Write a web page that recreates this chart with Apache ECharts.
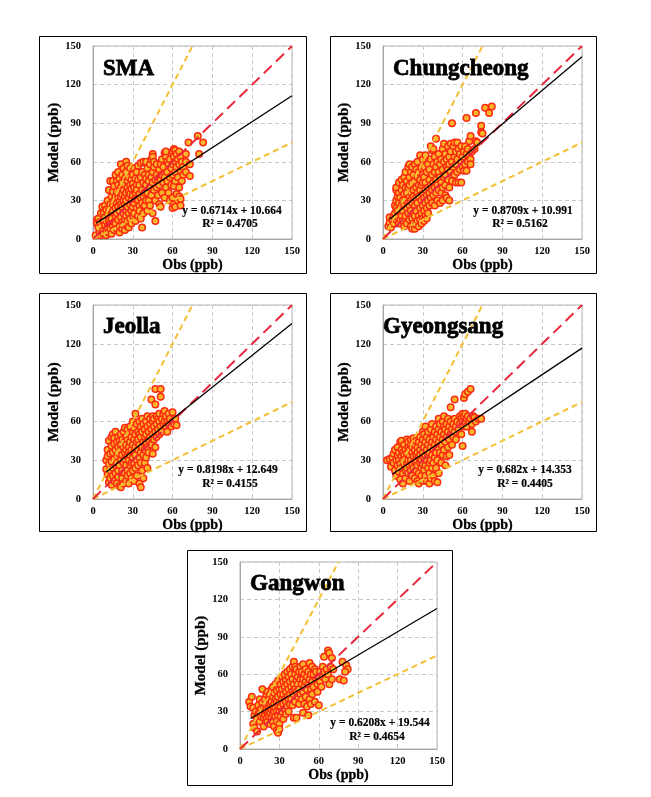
<!DOCTYPE html>
<html>
<head>
<meta charset="utf-8">
<script src="https://cdn.jsdelivr.net/npm/echarts@6/dist/echarts.min.js"></script>
<style>
html,body{margin:0;padding:0;background:#fff;}
#chart{width:651px;height:797px;}
</style>
</head>
<body>
<div id="chart"></div>
<script>
// ---------------- DATA ----------------
const regions = ['SMA', 'Chungcheong', 'Jeolla', 'Gyeongsang', 'Gangwon'];
const axisTicks = [0, 30, 60, 90, 120, 150];

const smaPoints = [
[2,3],[3,15],[3,12],[4,9],[4,16],[5,5],[5,13],[6,3],[6,20],[7,10],[7,25],[7,6],[8,14],[8,20],[8,4],[9,26],[9,11],[9,17],[10,7],[10,23],[10,3],[10,14],
[11,19],[11,9],[11,30],[12,5],[12,24],[12,14],[12,38],[13,12],[13,27],[13,8],[13,45],[14,20],[14,33],[14,16],[14,4],[15,45],[15,26],[15,10],[15,37],[15,22],[16,13],[16,30],[16,41],[16,7],[17,18],[17,33],[17,24],[17,50],[17,12],[18,28],[18,37],[18,8],[18,45],[18,20],[19,15],[19,32],[19,42],[19,25],[19,52],[20,10],[20,22],[20,36],[20,29],[20,47],[20,5],
[21,17],[21,40],[21,58],[21,27],[21,33],[22,8],[22,25],[22,44],[22,13],[22,35],[22,50],[23,20],[23,30],[23,38],[23,55],[23,11],[24,15],[24,27],[24,42],[24,33],[24,47],[24,7],[25,22],[25,36],[25,60],[25,18],[25,30],[25,52],[26,10],[26,40],[26,25],[26,45],[26,14],[26,57],[27,20],[27,32],[27,48],[27,9],[27,37],[28,27],[28,42],[28,16],[28,55],[28,35],[29,22],[29,46],[29,12],[29,30],[29,39],[30,25],[30,50],[30,18],[30,34],[30,43],
[31,28],[31,40],[31,55],[31,20],[32,36],[32,47],[32,14],[32,31],[33,24],[33,42],[33,52],[33,38],[34,30],[34,46],[34,18],[34,57],[35,35],[35,26],[35,42],[35,22],[36,48],[36,32],[36,16],[36,59],[37,38],[37,9],[37,28],[37,52],[38,44],[38,60],[38,20],[38,33],[39,36],[39,50],[39,26],[40,60],[40,42],[40,30],[40,47],
[41,36],[41,55],[41,22],[42,45],[42,30],[42,50],[43,40],[43,58],[43,26],[44,48],[44,34],[44,62],[45,66],[45,64],[45,44],[45,52],[45,20],[46,38],[46,56],[46,60],[47,14],[47,46],[47,30],[48,50],[48,40],[48,58],[49,34],[49,45],[50,54],[50,27],[50,48],[50,42],
[51,25],[51,46],[51,58],[52,50],[52,36],[52,62],[53,44],[53,56],[54,67],[54,48],[54,32],[55,64],[55,40],[55,68],[56,52],[56,60],[56,45],[57,58],[57,36],[58,48],[58,62],[58,30],[59,55],[59,42],[60,68],[60,58],[60,50],[60,32],[60,24],
[61,70],[61,64],[61,41],[61,27],[62,69],[62,60],[62,52],[62,45],[62,25],[63,66],[63,56],[63,35],[64,62],[64,48],[64,30],[65,68],[65,58],[65,40],[65,33],[66,64],[66,53],[66,26],[67,60],[67,45],[68,56],[68,50],[70,52],[70,60],[72,75],[73,49],[73,58],
[79,80],[80,66],[83,75],[70,66],[66,31]
];

const chungcheongPoints = [
[4,10],[5,13],[5,17],[6,9],[7,15],[8,18],[8,12],[9,26],[9,20],[10,15],[10,30],[10,38],[10,24],[10,40],
[11,22],[11,33],[11,17],[12,28],[12,36],[12,44],[12,12],[13,21],[13,32],[13,15],[14,38],[14,26],[14,46],[14,18],[15,30],[15,42],[15,22],[15,14],[16,35],[16,48],[16,27],[16,10],[17,40],[17,18],[17,30],[17,52],[18,24],[18,45],[18,36],[18,12],[19,56],[19,28],[19,40],[19,20],[20,33],[20,48],[20,15],[20,58],[20,26],[20,42],
[21,10],[21,36],[21,52],[21,22],[21,30],[22,44],[22,16],[22,56],[22,28],[22,8],[23,38],[23,20],[23,50],[23,12],[23,33],[24,8],[24,26],[24,45],[24,58],[24,18],[25,32],[25,40],[25,11],[25,54],[25,22],[26,36],[26,14],[26,48],[26,28],[26,60],[27,18],[27,42],[27,10],[27,33],[27,52],[28,24],[28,65],[28,38],[28,15],[28,46],[29,30],[29,12],[29,55],[29,20],[29,42],[30,35],[30,26],[30,50],[30,16],[30,62],[30,44],
[31,32],[31,22],[31,48],[31,56],[31,14],[32,38],[32,28],[32,65],[32,18],[32,44],[33,52],[33,34],[33,24],[33,16],[34,40],[34,58],[34,30],[34,20],[35,46],[35,36],[35,26],[35,54],[36,42],[36,62],[36,32],[36,72],[37,50],[37,69],[37,38],[37,28],[38,44],[38,58],[38,70],[38,34],[39,52],[39,40],[39,26],[39,64],[40,78],[40,46],[40,36],[40,56],
[41,60],[41,42],[41,30],[42,52],[42,66],[42,38],[43,48],[43,58],[43,28],[44,62],[44,44],[44,36],[45,70],[45,54],[45,40],[45,30],[46,74],[46,60],[46,48],[47,50],[47,66],[47,34],[47,42],[48,56],[48,62],[48,32],[49,46],[49,72],[49,54],[50,64],[50,40],[50,58],[50,30],
[51,74],[51,52],[51,68],[52,90],[52,60],[52,45],[53,72],[53,56],[54,75],[54,64],[54,50],[55,68],[55,44],[55,58],[56,75],[56,62],[56,52],[57,70],[57,44],[58,66],[58,54],[59,72],[59,60],[59,44],[60,64],[60,56],
[61,68],[61,53],[62,72],[62,58],[63,94],[63,66],[63,53],[64,60],[64,70],[65,76],[65,64],[66,80],[66,62],[66,58],[67,68],[69,70],[70,98],[70,76],[71,75],[74,88],[74,83],[75,82],[77,102],[80,98],[82,103]
];

const jeollaPoints = [
[10,23],[10,30],[11,38],[11,19],[11,33],[12,45],[12,27],[12,13],[13,35],[13,22],[13,16],[14,41],[14,29],[14,48],[14,11],[15,50],[15,36],[15,24],[15,18],
[16,43],[16,31],[16,14],[16,47],[17,38],[17,26],[17,20],[17,52],[18,33],[18,44],[18,12],[18,28],[19,40],[19,22],[19,48],[19,17],[20,35],[20,45],[20,26],[20,10],[21,30],[21,42],[21,9],[21,38],[21,50],[22,22],[22,46],[22,34],[22,16],[23,40],[23,28],[23,52],[23,12],[24,36],[24,55],[24,20],[24,44],[24,31],[25,26],[25,48],[25,38],[25,14],[25,42],
[26,33],[26,46],[26,22],[26,54],[26,18],[27,40],[27,30],[27,50],[27,12],[27,36],[28,44],[28,26],[28,56],[28,34],[28,20],[29,38],[29,48],[29,16],[29,28],[30,52],[30,42],[30,32],[30,22],[30,60],[31,36],[31,46],[31,14],[31,28],[31,55],[32,66],[32,40],[32,50],[32,24],[32,34],[33,44],[33,30],[33,58],[33,18],[34,38],[34,52],[34,26],[34,46],[35,42],[35,32],[35,60],[35,12],[35,50],
[36,9],[36,36],[36,48],[36,56],[36,28],[37,40],[37,52],[37,62],[37,22],[38,44],[38,34],[38,58],[38,16],[39,48],[39,38],[39,54],[39,28],[40,60],[40,44],[40,50],[40,32],[41,56],[41,40],[41,64],[41,24],[42,52],[42,46],[42,36],[43,58],[43,48],[43,62],[44,77],[44,54],[44,42],[45,60],[45,50],[45,64],[45,35],
[46,56],[46,46],[46,62],[47,85],[47,73],[47,52],[47,40],[48,58],[48,64],[48,48],[49,54],[49,62],[50,60],[50,66],[50,50],[51,85],[51,79],[51,56],[52,62],[52,52],[53,66],[53,58],[54,60],[54,68],[55,56],[55,64],[56,60],[56,52],[57,66],[57,58],[58,62],[59,56],[60,67],[60,60],[61,58],[62,62],[63,57]
];

const gyeongsangPoints = [
[3,30],[5,31],[6,25],[7,32],[8,35],[8,28],[9,22],[9,38],[10,30],[10,18],[11,26],[11,34],[11,40],[12,21],[12,30],[12,36],
[13,15],[13,27],[13,44],[14,33],[14,24],[14,45],[14,38],[15,20],[15,30],[15,36],[15,12],[16,27],[16,42],[16,34],[17,22],[17,31],[17,38],[17,16],[18,46],[18,28],[18,35],[18,24],[19,40],[19,20],[19,30],[19,44],[20,26],[20,34],[20,38],[20,14],[21,30],[21,42],[21,22],[21,46],[22,36],[22,27],[22,18],[22,40],
[23,33],[23,44],[23,24],[23,47],[24,29],[24,38],[24,16],[24,42],[25,34],[25,22],[25,45],[25,30],[26,40],[26,26],[26,36],[26,14],[27,32],[27,44],[27,20],[27,12],[28,38],[28,28],[28,48],[28,34],[29,24],[29,42],[29,30],[29,18],[30,36],[30,46],[30,27],[30,52],[30,14],[31,40],[31,32],[31,22],[31,50],[32,34],[32,44],[32,26],[32,18],[32,56],
[33,38],[33,30],[33,48],[33,14],[34,42],[34,24],[34,52],[34,34],[35,12],[35,36],[35,46],[35,28],[35,20],[36,40],[36,54],[36,30],[36,16],[37,44],[37,34],[37,24],[37,58],[38,38],[38,48],[38,28],[38,18],[39,42],[39,52],[39,32],[39,14],[40,46],[40,36],[40,56],[40,24],[41,40],[41,50],[41,13],[41,30],[42,54],[42,44],[42,62],[42,20],
[43,48],[43,36],[43,58],[44,52],[44,42],[44,28],[45,46],[45,60],[45,34],[46,56],[46,50],[46,38],[46,64],[47,44],[47,54],[47,26],[48,58],[48,48],[48,33],[49,52],[49,62],[49,40],[50,56],[50,46],[50,34],[51,71],[51,60],[51,50],[52,54],[52,42],[53,58],[53,48],[54,77],[54,62],[54,52],[55,56],[55,46],
[56,60],[57,54],[58,64],[58,58],[59,62],[59,50],[60,66],[60,60],[60,41],[61,78],[61,64],[61,56],[62,81],[62,66],[62,60],[63,62],[63,56],[64,83],[64,64],[65,60],[66,85],[66,62],[67,52],[67,58],[68,64],[69,63],[70,60],[72,62],[74,62]
];

const gangwonPoints = [
[7,38],[8,34],[9,42],[10,33],[10,20],[11,17],[11,27],[12,30],[13,14],[13,24],[14,35],[14,28],[15,30],[15,40],[15,22],
[16,26],[16,32],[17,48],[17,29],[17,37],[18,18],[18,25],[18,33],[19,30],[19,40],[19,27],[20,35],[20,24],[20,44],[20,31],[21,28],[21,37],[21,46],[21,22],[22,33],[22,40],[22,26],[22,30],[23,36],[23,20],[23,44],[23,29],[24,32],[24,48],[24,25],[24,38],[25,22],[25,34],[25,42],[25,28],[25,50],
[26,36],[26,30],[26,45],[26,18],[27,40],[27,26],[27,52],[27,33],[28,38],[28,22],[28,47],[28,30],[28,15],[29,42],[29,35],[29,27],[29,13],[29,55],[30,37],[30,48],[30,30],[30,20],[30,16],[31,44],[31,52],[31,34],[31,26],[32,40],[32,58],[32,30],[32,48],[33,36],[33,54],[33,44],[33,24],[34,50],[34,40],[34,32],[34,60],[35,46],[35,38],[35,55],[35,28],
[36,42],[36,52],[36,34],[36,62],[37,48],[37,58],[37,40],[37,30],[38,54],[38,44],[38,64],[38,36],[39,50],[39,60],[39,40],[40,46],[40,56],[40,66],[40,35],[41,52],[41,70],[41,25],[41,44],[42,60],[42,48],[42,66],[42,38],[43,55],[43,25],[43,46],[43,64],[44,52],[44,42],[44,58],[45,62],[45,48],[45,36],
[46,56],[46,66],[46,44],[47,52],[47,62],[47,40],[48,68],[48,56],[48,46],[48,29],[49,60],[49,50],[49,36],[50,64],[50,54],[50,42],[51,58],[51,48],[51,34],[52,27],[52,62],[52,52],[53,69],[53,56],[53,40],[54,60],[54,48],[54,36],[55,66],[55,54],[55,44],
[56,60],[56,50],[57,64],[57,38],[58,56],[58,62],[59,52],[59,46],[60,58],[60,35],[61,62],[61,54],[62,50],[63,66],[63,58],[64,74],[64,62],[65,56],[66,64],[67,79],[67,60],[68,77],[68,52],[69,66],[70,73],[70,56],[71,64],[76,56],[78,70],[79,55],[81,67],[82,64],[80,62]
];

const pointsByRegion = [smaPoints, chungcheongPoints, jeollaPoints, gyeongsangPoints, gangwonPoints];

// regression line end points (from the printed equations)
const regressionLines = [
  [[2.5, 12.34], [150, 111.37]],
  [[5, 15.34], [150, 141.63]],
  [[10, 20.85], [150, 135.62]],
  [[7, 19.13], [150, 116.65]],
  [[8, 24.51], [150, 112.66]]
];
const equations = ['y = 0.6714x + 10.664', 'y = 0.8709x + 10.991', 'y = 0.8198x + 12.649', 'y = 0.682x + 14.353', 'y = 0.6208x + 19.544'];
const rSquared = ['R\u00b2 = 0.4705', 'R\u00b2 = 0.5162', 'R\u00b2 = 0.4155', 'R\u00b2 = 0.4405', 'R\u00b2 = 0.4654'];

const lineOneToOne = [[0, 0], [150, 150]];
const lineTwoToOne = [[0, 0], [75, 150]];
const lineHalf = [[0, 0], [150, 75]];

// ---------------- LAYOUT ----------------
const gridBoxes = [
  {left: 93, top: 46, width: 199, height: 193},
  {left: 383, top: 46, width: 199, height: 193},
  {left: 93, top: 305, width: 199, height: 194},
  {left: 383, top: 305, width: 199, height: 194},
  {left: 240, top: 562, width: 197, height: 187}
];
const frameBoxes = [
  {x: 39.5, y: 36.5, w: 267, h: 237},
  {x: 330.5, y: 36.5, w: 266, h: 237},
  {x: 39.5, y: 293.5, w: 267, h: 238},
  {x: 330.5, y: 293.5, w: 266, h: 238},
  {x: 187.5, y: 550.5, w: 265, h: 235}
];
const titlePos = [[103, 69], [393, 69], [103, 327], [383, 327], [250, 584]];
const eqPos = [[232, 211, 230, 224], [523, 211, 520, 224], [228, 470, 230, 484], [525, 470, 525, 484], [380, 723, 377, 737]];

const FONT = '"Liberation Serif", "Times New Roman", serif';

const grids = [], xAxes = [], yAxes = [], series = [], graphics = [];

regions.forEach((name, i) => {
  grids.push(Object.assign({show: true, borderColor: '#b4b4b4', borderWidth: 1, backgroundColor: 'transparent'}, gridBoxes[i]));
  const axisCommon = {
    gridIndex: i, type: 'value', min: axisTicks[0], max: axisTicks[axisTicks.length - 1], interval: axisTicks[1] - axisTicks[0],
    axisLine: {show: true, lineStyle: {color: '#a6a6a6', width: 1}},
    axisTick: {show: false},
    splitLine: {show: true, lineStyle: {color: '#c8c8c8', type: [4, 3], width: 1}},
    nameLocation: 'middle'
  };
  xAxes.push(Object.assign({}, axisCommon, {
    name: 'Obs (ppb)', nameGap: 19,
    nameTextStyle: {fontFamily: FONT, fontWeight: 'bold', color: '#000', fontSize: 14, textBorderColor: '#000', textBorderWidth: 0.3},
    axisLabel: {fontFamily: FONT, fontWeight: 'bold', color: '#000', fontSize: 10.5, margin: 7}
  }));
  yAxes.push(Object.assign({}, axisCommon, {
    name: 'Model (ppb)', nameGap: 30, nameRotate: 90,
    nameTextStyle: {fontFamily: FONT, fontWeight: 'bold', color: '#000', fontSize: 15, textBorderColor: '#000', textBorderWidth: 0.3},
    axisLabel: {fontFamily: FONT, fontWeight: 'bold', color: '#000', fontSize: 10.5, margin: 12}
  }));

  series.push({
    type: 'scatter', xAxisIndex: i, yAxisIndex: i, data: pointsByRegion[i],
    symbol: 'circle', symbolSize: 6.5,
    itemStyle: {color: '#fbb52b', borderColor: '#fa2a10', borderWidth: 1.5, opacity: 1},
    z: 2, silent: true
  });
  series.push({
    type: 'line', xAxisIndex: i, yAxisIndex: i, data: lineTwoToOne, symbol: 'none',
    lineStyle: {color: '#f3c033', width: 2, type: [6, 4]}, z: 3, silent: true
  });
  series.push({
    type: 'line', xAxisIndex: i, yAxisIndex: i, data: lineHalf, symbol: 'none',
    lineStyle: {color: '#f3c033', width: 2, type: [6, 4]}, z: 3, silent: true
  });
  series.push({
    type: 'line', xAxisIndex: i, yAxisIndex: i, data: lineOneToOne, symbol: 'none',
    lineStyle: {color: '#e8283a', width: 2, type: [11, 6]}, z: 4, silent: true
  });
  series.push({
    type: 'line', xAxisIndex: i, yAxisIndex: i, data: regressionLines[i], symbol: 'none',
    lineStyle: {color: '#000', width: 1.3, type: 'solid'}, z: 5, silent: true
  });

  const f = frameBoxes[i];
  graphics.push({type: 'rect', shape: {x: f.x, y: f.y, width: f.w, height: f.h},
    style: {fill: 'none', stroke: '#000', lineWidth: 1}, z: 100, silent: true});
  graphics.push({type: 'text', x: titlePos[i][0], y: titlePos[i][1], z: 100, silent: true,
    style: {text: name, font: 'bold 23px ' + FONT, fill: '#000', stroke: '#000', lineWidth: 0.8, textAlign: 'left', textVerticalAlign: 'middle'}});
  const e = eqPos[i];
  graphics.push({type: 'text', x: e[0], y: e[1], z: 100, silent: true,
    style: {text: equations[i], font: 'bold 11.5px ' + FONT, fill: '#000', stroke: '#000', lineWidth: 0.2, textAlign: 'center', textVerticalAlign: 'middle'}});
  graphics.push({type: 'text', x: e[2], y: e[3], z: 100, silent: true,
    style: {text: rSquared[i], font: 'bold 11.5px ' + FONT, fill: '#000', stroke: '#000', lineWidth: 0.2, textAlign: 'center', textVerticalAlign: 'middle'}});
});

const chart = echarts.init(document.getElementById('chart'), null, {renderer: 'canvas'});
chart.setOption({
  animation: false,
  backgroundColor: '#fff',
  grid: grids,
  xAxis: xAxes,
  yAxis: yAxes,
  series: series,
  graphic: graphics
});
</script>
</body>
</html>
